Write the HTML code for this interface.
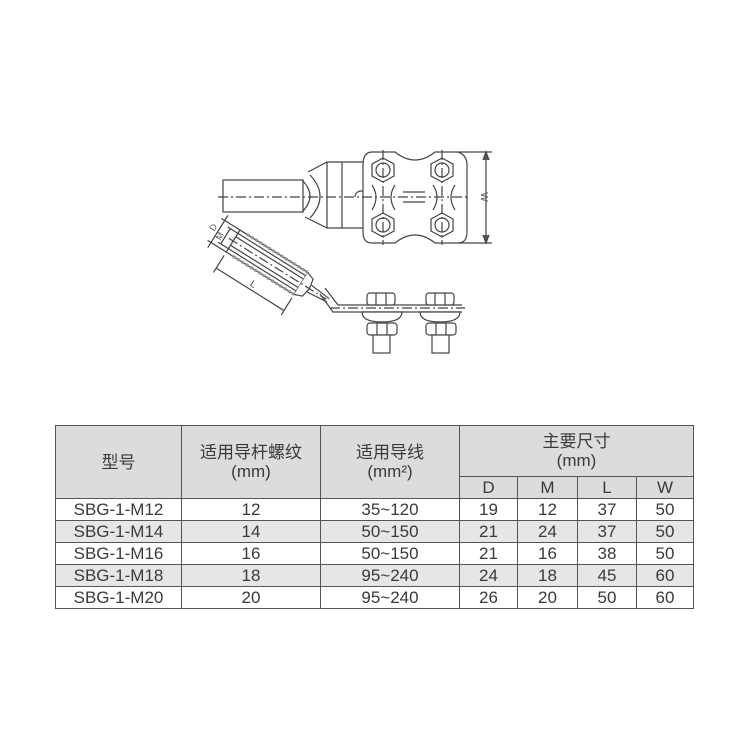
<!DOCTYPE html>
<html><head><meta charset="utf-8"><style>
body{margin:0;background:#fff;width:750px;height:750px;position:relative;overflow:hidden;font-family:"Liberation Sans","Noto Sans CJK SC",sans-serif;}
svg{position:absolute;left:0;top:0}
table{position:absolute;left:55px;top:425px;border-collapse:collapse;color:#3a3a3a;font-size:17px;}
td{border:1px solid #555;text-align:center;padding:0;height:21px;line-height:19px}
.h{background:#dcdcdc}
.g{background:#e6e6e6}
</style></head><body>
<svg width="750" height="420" viewBox="0 0 750 420" fill="none" stroke="#444" stroke-width="1.2">
<!-- top view -->
<rect x="223" y="180" width="80" height="32" fill="#fff"/>
<path d="M308 172 L327 162 L365 162 M305 217 L327 228 L365 228" />
<path d="M302 180 Q318 196 302 212" />
<path d="M310 175 Q330 196 310 218" />
<line x1="342" y1="162" x2="342" y2="228"/>
<line x1="327" y1="162" x2="327" y2="228"/>
<path d="M355 197 a6 6 0 0 1 12 0" />
<path d="M372 152 L395 152 Q405 160 415 160 Q425 160 435 152 L458 152 Q467 155 467 165 L467 232 Q467 243 458 243 L435 243 Q425 235 415 235 Q405 235 395 243 L372 243 Q363 243 363 232 L363 165 Q363 152 372 152Z" fill="#fff"/>
<path d="M372 185 Q380 197 372 210 M395 185 Q387 197 395 210 M433 185 Q441 197 433 210 M455 185 Q447 197 455 210"/>
<line x1="403" y1="192" x2="425" y2="192"/><line x1="403" y1="202" x2="425" y2="202"/>
<g>
<polygon points="383,158 394,164 394,176 383,182 372,176 372,164"/><circle cx="383" cy="170" r="7"/>
<polygon points="383,213 394,219 394,231 383,237 372,231 372,219"/><circle cx="383" cy="225" r="7"/>
<polygon points="442,158 453,164 453,176 442,182 431,176 431,164"/><circle cx="442" cy="170" r="7"/>
<polygon points="442,213 453,219 453,231 442,237 431,231 431,219"/><circle cx="442" cy="225" r="7"/>
</g>
<line x1="218" y1="197" x2="470" y2="197" stroke-dasharray="10 3 2 3"/>
<line x1="383" y1="150" x2="383" y2="245" stroke-dasharray="10 3 2 3"/>
<line x1="442" y1="150" x2="442" y2="245" stroke-dasharray="10 3 2 3"/>
<line x1="458" y1="152" x2="492" y2="152"/><line x1="458" y1="243" x2="492" y2="243"/>
<line x1="486" y1="152" x2="486" y2="243"/>
<path d="M483 160 L486 152 L489 160 M483 235 L486 243 L489 235" fill="#555"/>
<text x="481" y="197" font-size="10" fill="#555" stroke="none" transform="rotate(90 481 197)" text-anchor="middle" font-family="Liberation Sans">W</text>
<!-- angled tube -->
<g transform="translate(240 230) rotate(32)">
<rect x="0" y="0" width="80" height="26" fill="#fff"/>
<line x1="0" y1="4" x2="80" y2="4"/><line x1="0" y1="22" x2="80" y2="22"/>
<line x1="0" y1="8" x2="80" y2="8"/><line x1="0" y1="18" x2="80" y2="18"/>
<line x1="8" y1="0" x2="80" y2="0" stroke-dasharray="3 2" stroke-width="3" stroke="#999"/>
<line x1="8" y1="26" x2="80" y2="26" stroke-dasharray="3 2" stroke-width="3" stroke="#999"/>
<path d="M80 0 L88 3 L90 13 L88 23 L80 26" fill="#fff"/>
<path d="M90 9 L112 11 M90 17 L112 15"/>
<line x1="-5" y1="13" x2="110" y2="13" stroke-dasharray="10 3 2 3"/>
<line x1="-22" y1="0" x2="0" y2="0"/><line x1="-22" y1="26" x2="0" y2="26"/>
<line x1="-12" y1="4" x2="0" y2="4"/><line x1="-12" y1="22" x2="0" y2="22"/>
<line x1="-18" y1="-6" x2="-18" y2="32"/>
<line x1="-9" y1="4" x2="-9" y2="22"/>
<line x1="0" y1="30" x2="0" y2="50"/><line x1="80" y1="30" x2="80" y2="50"/>
<line x1="0" y1="45" x2="80" y2="45"/>
<text x="40" y="42" font-size="10" fill="#555" stroke="none" text-anchor="middle">L</text>
<text x="-21" y="12" font-size="9" fill="#555" stroke="none" transform="rotate(-90 -21 12)" text-anchor="middle">D</text>
<text x="-11" y="16" font-size="9" fill="#555" stroke="none" transform="rotate(-90 -11 16)" text-anchor="middle">M</text>
</g>
<path d="M325 288 L338 305 L462 305 M320 294 L333 312 L462 312" fill="none"/>
<line x1="330" y1="308" x2="465" y2="308" stroke-dasharray="10 3 2 3"/>
<g fill="#fff">
<rect x="367" y="293" width="28" height="12" rx="3"/><rect x="426" y="293" width="28" height="12" rx="3"/>
<path d="M362 312 L402 312 Q402 322 382 322 Q362 322 362 312Z"/><path d="M420 312 L460 312 Q460 322 440 322 Q420 322 420 312Z"/>
<rect x="367" y="323" width="30" height="12" rx="3"/><rect x="426" y="323" width="30" height="12" rx="3"/>
<rect x="373" y="335" width="17" height="18"/><rect x="432" y="335" width="17" height="18"/>
</g>
<path d="M376 293 v12 M386 293 v12 M435 293 v12 M445 293 v12 M377 323 v12 M387 323 v12 M436 323 v12 M446 323 v12"/>
</svg>
<table>
<tr class="h"><td rowspan="2" style="width:125px;height:50px">型号</td><td rowspan="2" style="width:138px">适用导杆螺纹<br>(mm)</td><td rowspan="2" style="width:138px">适用导线<br>(mm²)</td><td colspan="4" style="height:50px">主要尺寸<br>(mm)</td></tr>
<tr class="h"><td style="width:57px">D</td><td style="width:59px">M</td><td style="width:58px">L</td><td style="width:56px">W</td></tr>
<tr><td>SBG-1-M12</td><td>12</td><td>35~120</td><td>19</td><td>12</td><td>37</td><td>50</td></tr>
<tr class="g"><td>SBG-1-M14</td><td>14</td><td>50~150</td><td>21</td><td>24</td><td>37</td><td>50</td></tr>
<tr><td>SBG-1-M16</td><td>16</td><td>50~150</td><td>21</td><td>16</td><td>38</td><td>50</td></tr>
<tr class="g"><td>SBG-1-M18</td><td>18</td><td>95~240</td><td>24</td><td>18</td><td>45</td><td>60</td></tr>
<tr><td>SBG-1-M20</td><td>20</td><td>95~240</td><td>26</td><td>20</td><td>50</td><td>60</td></tr>
</table>
</body></html>
